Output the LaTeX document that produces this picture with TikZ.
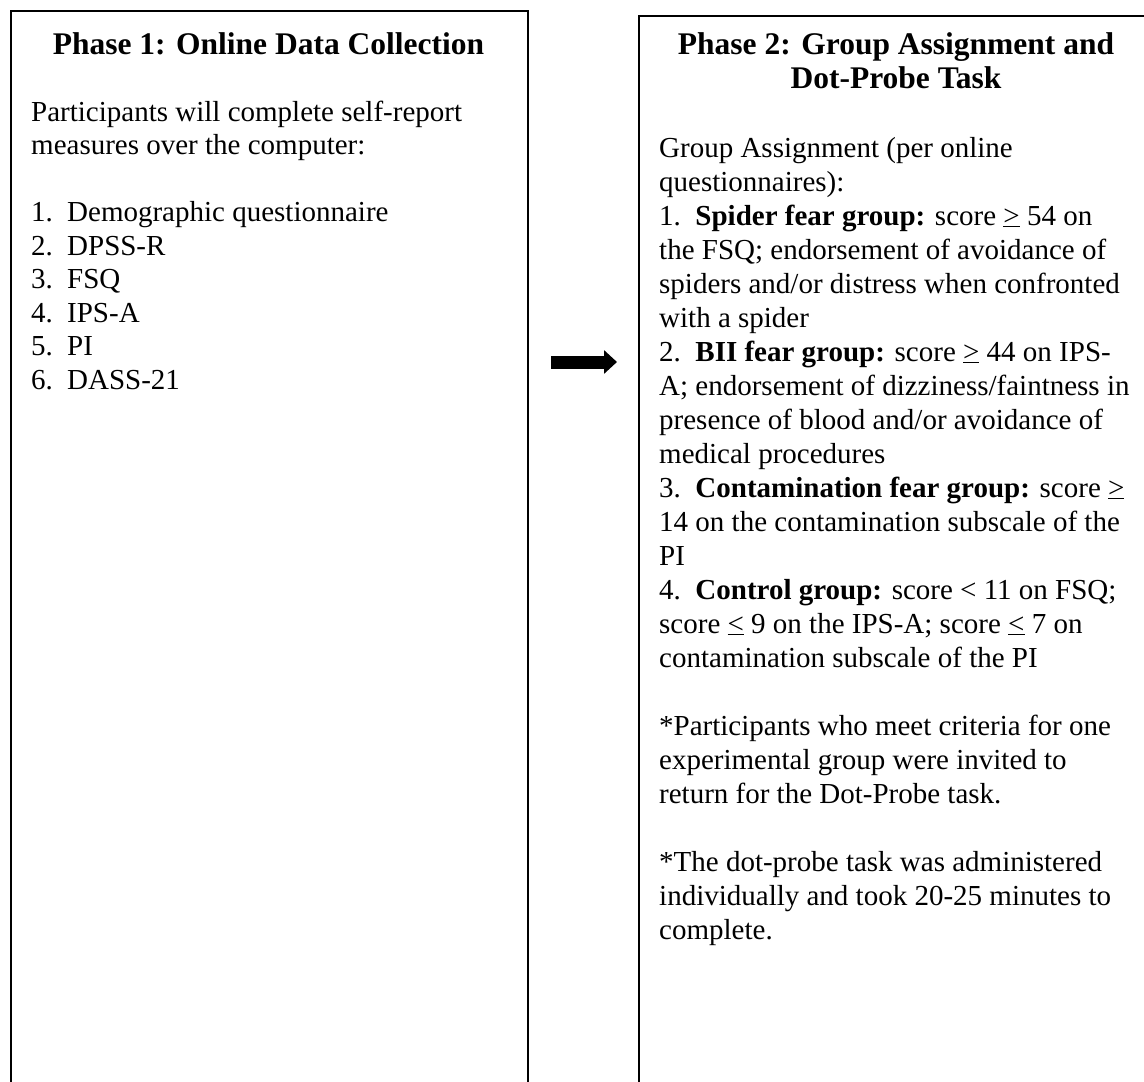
\documentclass[tikz,border=0pt]{standalone}
\usepackage{fontspec}
\setmainfont{Liberation Serif}
\usetikzlibrary{positioning,arrows.meta}
\newcommand{\atleast}{\underline{>}}
\newcommand{\atmost}{\underline{\textless}}

\begin{document}
\begin{tikzpicture}[x=1pt,y=-1pt]

\tikzstyle{phase}=[draw,line width=1.6pt,rectangle,anchor=north west,inner sep=0pt]
\tikzstyle{title}=[font=\fontsize{31.5}{34}\selectfont\bfseries,align=center,anchor=base,inner sep=0pt]
\tikzstyle{body}=[font=\fontsize{29}{33.5}\selectfont,align=left,anchor=base west,inner sep=0pt]
\tikzstyle{item}=[body,font=\fontsize{29}{34}\selectfont]

\useasboundingbox (0,0) rectangle (1144,1082);

% the two phases (they run off the page)
\node[phase,minimum width=517pt,minimum height=1150pt] (p1) at (10,10) {};
\node[phase,minimum width=518pt,minimum height=1150pt] (p2) at (638,15) {};

% titles and texts sit on the baseline of their last line
\node[title] (t1) at (268.5,54) {Phase 1: Online Data Collection};
\node[title] (t2) at (896,88) {Phase 2: Group Assignment and\\Dot-Probe Task};

\node[body] (b1) at (31,389) {Participants will complete self-report\\
measures over the computer:\\[33.5pt]
\makebox[36pt][l]{1.}Demographic questionnaire\\
\makebox[36pt][l]{2.}DPSS-R\\
\makebox[36pt][l]{3.}FSQ\\
\makebox[36pt][l]{4.}IPS-A\\
\makebox[36pt][l]{5.}PI\\
\makebox[36pt][l]{6.}DASS-21};

\node[item] (b2) at (659,939) {Group Assignment (per online\\
questionnaires):\\
1.\ \ \textbf{Spider fear group:} score \atleast{} 54 on\\
the FSQ; endorsement of avoidance of\\
spiders and/or distress when confronted\\
with a spider\\
2.\ \ \textbf{BII fear group:} score \atleast{} 44 on IPS-\\
A; endorsement of dizziness/faintness in\\
presence of blood and/or avoidance of\\
medical procedures\\
3.\ \ \textbf{Contamination fear group:} score \atleast\\
14 on the contamination subscale of the\\
PI\\
4.\ \ \textbf{Control group:} score \textless{} 11 on FSQ;\\
score \atmost{} 9 on the IPS-A; score \atmost{} 7 on\\
contamination subscale of the PI\\[34pt]
*Participants who meet criteria for one\\
experimental group were invited to\\
return for the Dot-Probe task.\\[34pt]
*The dot-probe task was administered\\
individually and took 20-25 minutes to\\
complete.};

\coordinate (a0) at (551,362);
\coordinate (a1) at (617,362);
\draw[line width=13pt,-{Triangle[length=13pt,width=23pt]}] (a0) -- (a1);

\end{tikzpicture}
\end{document}
